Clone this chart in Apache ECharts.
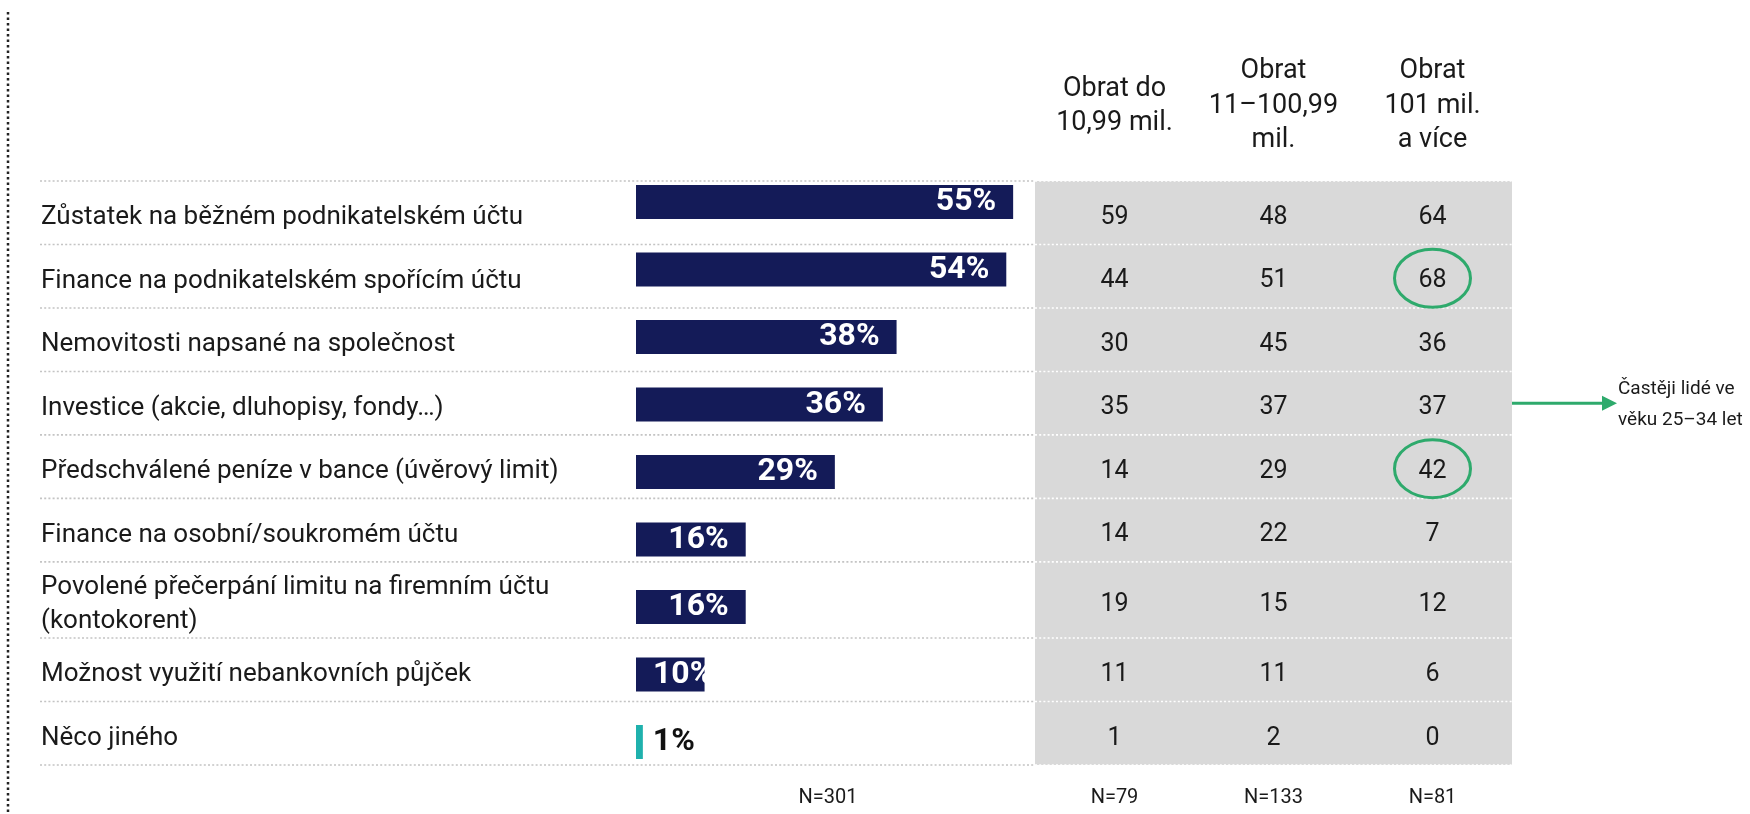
<!DOCTYPE html>
<html><head><meta charset="utf-8">
<script src="https://cdn.jsdelivr.net/npm/echarts@6/dist/echarts.min.js"></script>
<style>html,body{margin:0;padding:0;background:#fff}#c{width:1750px;height:814px}</style>
</head><body><div id="c"></div>
<script>
// ---- data ----
const categories = [
  'Zůstatek na běžném podnikatelském účtu',
  'Finance na podnikatelském spořícím účtu',
  'Nemovitosti napsané na společnost',
  'Investice (akcie, dluhopisy, fondy…)',
  'Předschválené peníze v bance (úvěrový limit)',
  'Finance na osobní/soukromém účtu',
  'Povolené přečerpání limitu na firemním účtu\n(kontokorent)',
  'Možnost využití nebankovních půjček',
  'Něco jiného'
];
const totalValues = [55, 54, 38, 36, 29, 16, 16, 10, 1];
const colHeaders = ['Obrat do\n10,99 mil.', 'Obrat\n11–100,99\nmil.', 'Obrat\n101 mil.\na více'];
const colSmall = [59, 44, 30, 35, 14, 14, 19, 11, 1];
const colMid   = [48, 51, 45, 37, 29, 22, 15, 11, 2];
const colLarge = [64, 68, 36, 37, 42, 7, 12, 6, 0];
const totalN = 'N=301';
const colN = ['N=79', 'N=133', 'N=81'];
const highlights = [[1, 2], [4, 2]];           // [row, column] circled
const notes = [{ row: 3, text: 'Častěji lidé ve\nvěku 25–34 let' }];

// ---- styles ----
const FONT = 'Roboto';
const NAVY = '#141b58';
const TEAL = '#1fb1ad';
const GREEN = '#2eaa6c';
const TEXT = '#1a1a1a';
const TEXT_DY = 5;

const tableCols = [colSmall, colMid, colLarge];
const weights = categories.map(c => 1 + 0.2 * (c.split('\n').length - 1));
const starts = []; let acc = 0;
weights.forEach(w => { starts.push(acc); acc += w; });
const totalW = acc;

const chart = echarts.init(document.getElementById('c'));

function gridLine(y, x0, xs, xe) {
  return [
    { type: 'line', shape: { x1: x0, y1: y, x2: xs, y2: y }, style: { stroke: '#c4c4c4', lineWidth: 1.6, lineDash: [2, 2.2] } },
    { type: 'line', shape: { x1: xs, y1: y, x2: xe, y2: y }, style: { stroke: '#ffffff', lineWidth: 1.6, lineDash: [2, 2.2] } }
  ];
}

const option = {
  animation: false,
  textStyle: { fontFamily: FONT },
  graphic: [
    { type: 'line', shape: { x1: 8, y1: 12, x2: 8, y2: 814 }, style: { stroke: '#222', lineWidth: 2.5, lineDash: [2.5, 3] } }
  ],
  grid: [
    { left: 636, top: 168.25, width: 384, height: 607.5 },
    { left: 1035, top: 181, width: 477, height: 584, show: true, backgroundColor: '#d9d9d9', borderWidth: 0 }
  ],
  xAxis: [
    { gridIndex: 0, type: 'value', min: 0, max: 56, axisLine: { show: false }, axisTick: { show: false }, axisLabel: { show: false }, splitLine: { show: false },
      name: totalN, nameLocation: 'middle', nameGap: 22, nameTextStyle: { fontSize: 20, color: TEXT, verticalAlign: 'middle', fontFamily: FONT } },
    { gridIndex: 1, type: 'category', position: 'top', data: colHeaders, axisLine: { show: false }, axisTick: { show: false },
      axisLabel: { interval: 0, hideOverlap: false, fontSize: 27, color: TEXT, lineHeight: 34.5, verticalAlign: 'middle', margin: 75, fontFamily: FONT } },
    { gridIndex: 1, type: 'category', position: 'bottom', data: colN, axisLine: { show: false }, axisTick: { show: false },
      axisLabel: { interval: 0, hideOverlap: false, fontSize: 20, color: TEXT, margin: 23, fontFamily: FONT } }
  ],
  yAxis: [
    { gridIndex: 0, type: 'category', inverse: true, data: categories, show: false },
    { gridIndex: 1, type: 'value', inverse: true, min: 0, max: totalW, show: false }
  ],
  series: [
    {
      type: 'bar', xAxisIndex: 0, yAxisIndex: 0, barWidth: 34,
      data: totalValues.map((v, i) => {
        const isOther = i === totalValues.length - 1;
        const item = { value: v, itemStyle: { color: isOther ? TEAL : NAVY } };
        if (isOther) item.label = { position: 'right', distance: 10, color: '#111' };
        else if (v < 12) item.label = { position: 'insideLeft', distance: 17 };
        return item;
      }),
      label: { show: true, position: 'insideRight', distance: 17, color: '#fff', fontSize: 32, fontWeight: 'bold', fontFamily: FONT, formatter: '{c}%' }
    },
    {
      type: 'custom', xAxisIndex: 1, yAxisIndex: 1, clip: false,
      data: categories.map((c, i) => [0, starts[i] + weights[i] / 2, i]),
      renderItem: function (params, api) {
        const i = api.value(2);
        const cs = params.coordSys;
        const yTop = api.coord([0, starts[i]])[1];
        const yBot = api.coord([0, starts[i] + weights[i]])[1];
        const yMid = (yTop + yBot) / 2;
        const right = cs.x + cs.width;
        const ch = [];
        if (i === 0) ch.push(...gridLine(yTop, 40, cs.x, right));
        ch.push(...gridLine(yBot, 40, cs.x, right));
        ch.push({ type: 'text', x: 41, y: yMid + TEXT_DY, style: { text: categories[i], fill: TEXT, font: '26px ' + FONT, align: 'left', verticalAlign: 'middle', lineHeight: 34 } });
        tableCols.forEach((col, j) => {
          const x = api.coord([j, 0])[0];
          ch.push({ type: 'text', x: x, y: yMid + TEXT_DY, style: { text: String(col[i]), fill: TEXT, font: '25px ' + FONT, align: 'center', verticalAlign: 'middle' } });
        });
        highlights.forEach(h => {
          if (h[0] === i) {
            const x = api.coord([h[1], 0])[0];
            ch.push({ type: 'ellipse', shape: { cx: x, cy: yMid + 2, rx: 38, ry: 29 }, style: { fill: 'none', stroke: GREEN, lineWidth: 3 } });
          }
        });
        notes.forEach(n => {
          if (n.row === i) {
            ch.push({ type: 'line', shape: { x1: right, y1: yMid, x2: right + 92, y2: yMid }, style: { stroke: GREEN, lineWidth: 3 } });
            ch.push({ type: 'polygon', shape: { points: [[right + 90, yMid - 7.5], [right + 105, yMid], [right + 90, yMid + 7.5]] }, style: { fill: GREEN } });
            ch.push({ type: 'text', x: right + 106, y: yMid + 2, style: { text: n.text, fill: TEXT, font: '19px ' + FONT, align: 'left', verticalAlign: 'middle', lineHeight: 31 } });
          }
        });
        return { type: 'group', children: ch };
      }
    }
  ]
};
chart.setOption(option);
</script>
</body></html>
